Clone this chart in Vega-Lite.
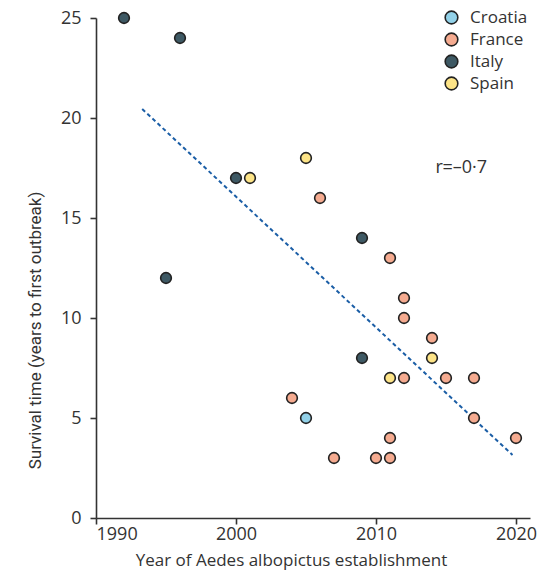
{
  "$schema": "https://vega.github.io/schema/vega-lite/v6.json",
  "autosize": {"type": "none"},
  "padding": {"left": 96, "top": 18, "right": 8, "bottom": 56},
  "width": 434,
  "height": 500,
  "background": "white",
  "config": {
    "view": {"stroke": null},
    "font": "Open Sans",
    "axis": {"grid": false, "domainColor": "#333", "domainWidth": 1.6, "tickColor": "#333", "tickWidth": 1.6, "tickSize": 6, "labelFontSize": 18, "labelColor": "#333", "titleColor": "#333", "titleFontWeight": "normal"}
  },
  "datasets": {
    "pts": [
      {"year": 1992, "t": 25, "country": "Italy"},
      {"year": 1996, "t": 24, "country": "Italy"},
      {"year": 2000, "t": 17, "country": "Italy"},
      {"year": 1995, "t": 12, "country": "Italy"},
      {"year": 2009, "t": 14, "country": "Italy"},
      {"year": 2009, "t": 8, "country": "Italy"},
      {"year": 2001, "t": 17, "country": "Spain"},
      {"year": 2005, "t": 18, "country": "Spain"},
      {"year": 2011, "t": 7, "country": "Spain"},
      {"year": 2014, "t": 8, "country": "Spain"},
      {"year": 2005, "t": 5, "country": "Croatia"},
      {"year": 2006, "t": 16, "country": "France"},
      {"year": 2011, "t": 13, "country": "France"},
      {"year": 2012, "t": 11, "country": "France"},
      {"year": 2012, "t": 10, "country": "France"},
      {"year": 2014, "t": 9, "country": "France"},
      {"year": 2012, "t": 7, "country": "France"},
      {"year": 2015, "t": 7, "country": "France"},
      {"year": 2017, "t": 7, "country": "France"},
      {"year": 2004, "t": 6, "country": "France"},
      {"year": 2017, "t": 5, "country": "France"},
      {"year": 2011, "t": 4, "country": "France"},
      {"year": 2020, "t": 4, "country": "France"},
      {"year": 2007, "t": 3, "country": "France"},
      {"year": 2010, "t": 3, "country": "France"},
      {"year": 2011, "t": 3, "country": "France"}
    ],
    "fit": [
      {"year": 1993.3, "t": 20.45},
      {"year": 2019.75, "t": 3.15}
    ],
    "lab": [
      {"year": 2014.25, "t": 17.5, "txt": "r", "style": "italic"},
      {"year": 2014.75, "t": 17.5, "txt": "=–0·7", "style": "normal"}
    ]
  },
  "layer": [
    {
      "data": {"name": "fit"},
      "mark": {"type": "line", "color": "#1b5ea6", "strokeWidth": 2, "strokeDash": [4, 3]},
      "encoding": {
        "x": {"field": "year", "type": "quantitative", "scale": {"domain": [1990, 2021], "nice": false},
          "axis": {"values": [1990, 2000, 2010, 2020], "format": "d", "title": "Year of Aedes albopictus establishment", "titleFontSize": 17, "titlePadding": 9, "labelPadding": 1, "titleX": 195}},
        "y": {"field": "t", "type": "quantitative", "scale": {"domain": [0, 25], "nice": false},
          "axis": {"values": [0, 5, 10, 15, 20, 25], "title": "Survival time (years to first outbreak)", "titleFont": "Roboto", "titleFontSize": 17, "titlePadding": 16, "labelPadding": 9, "titleY": 312}}
      }
    },
    {
      "data": {"name": "pts"},
      "mark": {"type": "point", "filled": true, "size": 115, "stroke": "#222", "strokeWidth": 1.6, "opacity": 1},
      "encoding": {
        "x": {"field": "year", "type": "quantitative"},
        "y": {"field": "t", "type": "quantitative"},
        "fill": {"field": "country", "type": "nominal",
          "scale": {"domain": ["Croatia", "France", "Italy", "Spain"], "range": ["#92d1e8", "#f5ab90", "#3e5964", "#fde487"]},
          "legend": {"title": null, "orient": "none", "legendX": 347, "legendY": -9, "labelFontSize": 17, "labelColor": "#333", "symbolSize": 160, "symbolStrokeColor": "#222", "symbolStrokeWidth": 1.6, "symbolType": "circle", "rowPadding": 1, "labelOffset": 10}}
      }
    },
    {
      "data": {"name": "lab"},
      "mark": {"type": "text", "align": "left", "baseline": "middle", "fontSize": 18, "color": "#333"},
      "encoding": {
        "x": {"field": "year", "type": "quantitative"},
        "y": {"field": "t", "type": "quantitative"},
        "text": {"field": "txt"},
        "fontStyle": {"field": "style", "type": "nominal", "scale": null}
      }
    }
  ]
}
